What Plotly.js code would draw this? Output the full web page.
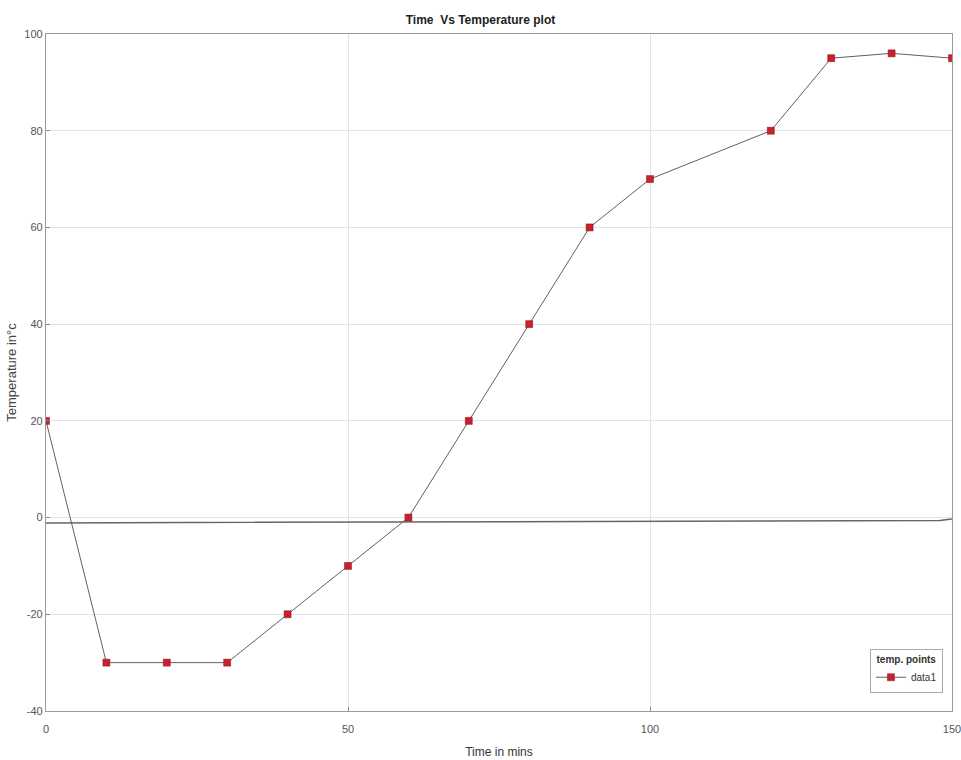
<!DOCTYPE html>
<html>
<head>
<meta charset="utf-8">
<script src="https://cdn.plot.ly/plotly-3.0.1.min.js"></script>
<style>html,body{margin:0;padding:0;background:#fff;}#chart{width:961px;height:760px;}</style>
</head>
<body>
<div id="chart"></div>
<script>
var timeMins = [0, 10, 20, 30, 40, 50, 60, 70, 80, 90, 100, 120, 130, 140, 150];
var tempC = [20, -30, -30, -30, -20, -10, 0, 20, 40, 60, 70, 80, 95, 96, 95];
var baseX = [0, 148, 150];
var baseY = [-1.1, -0.6, -0.3];
var xTicks = [0, 50, 100, 150];
var yTicks = [-40, -20, 0, 20, 40, 60, 80, 100];

var font = "'Liberation Sans Narrow', 'Liberation Sans', Arial, sans-serif";

var traces = [
  {
    x: baseX, y: baseY, mode: 'lines', showlegend: false, hoverinfo: 'skip',
    line: {color: '#666666', width: 1.5}
  },
  {
    x: timeMins, y: tempC, mode: 'lines+markers', name: 'data1',
    line: {color: '#606060', width: 1},
    marker: {symbol: 'square', size: 7, color: '#c8202c', line: {color: '#8a1018', width: 0.5}}
  }
];

var axisCommon = {
  showline: true, mirror: true, linecolor: '#9a9a9a', linewidth: 1.2,
  showgrid: true, gridcolor: '#e4e4e4', gridwidth: 1,
  zeroline: false, ticks: 'inside', ticklen: 4, tickcolor: '#888',
  ticklabeloverflow: 'allow',
  tickfont: {family: font, size: 11, color: '#555'}
};

var layout = {
  width: 961, height: 760,
  margin: {l: 46, r: 9, t: 34, b: 49},
  paper_bgcolor: '#ffffff', plot_bgcolor: '#ffffff',
  title: {text: '<b>Time  Vs Temperature plot</b>', font: {family: font, size: 12, color: '#222'}, x: 0.5, xanchor: 'center', y: 0.979, yanchor: 'top'},
  xaxis: Object.assign({}, axisCommon, {
    range: [0, 150], tickvals: xTicks, ticktext: xTicks.map(String),
    ticklabelstandoff: 8,
    title: {text: 'Time in mins', font: {family: font, size: 12, color: '#333'}, standoff: 13}
  }),
  yaxis: Object.assign({}, axisCommon, {
    range: [-40, 100], tickvals: yTicks, ticktext: yTicks.map(String),
    title: {text: 'Temperature in°c', font: {family: 'Liberation Sans, Arial, sans-serif', size: 13, color: '#444'}, standoff: 4}
  }),
  legend: {
    x: 0.99, xanchor: 'right', y: 0.027, yanchor: 'bottom',
    bgcolor: '#ffffff', bordercolor: '#aaaaaa', borderwidth: 1,
    title: {text: '<b>temp. points</b>', side: 'top center', font: {family: font, size: 10, color: '#333'}},
    font: {family: font, size: 10, color: '#333'}
  },
  showlegend: true
};

Plotly.newPlot('chart', traces, layout, {displayModeBar: false});
</script>
</body>
</html>
